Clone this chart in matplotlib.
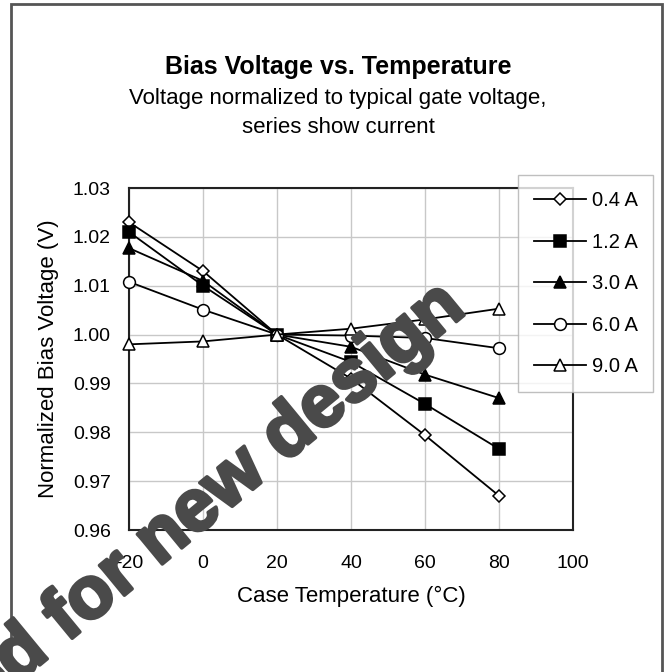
import matplotlib
matplotlib.use("Agg")
import matplotlib.pyplot as plt
import matplotlib.patheffects as pe
from matplotlib.patches import Rectangle

plt.rcParams['font.family'] = ['Liberation Sans', 'DejaVu Sans']

# data
temps = [-20, 0, 20, 40, 60, 80]
v_04 = [1.023, 1.013, 1.000, 0.991, 0.9794, 0.967]
v_12 = [1.021, 1.010, 1.000, 0.9944, 0.9858, 0.9766]
v_30 = [1.0177, 1.011, 1.000, 0.9975, 0.9918, 0.987]
v_60 = [1.0108, 1.0051, 1.000, 0.9998, 0.9993, 0.9972]
v_90 = [0.998, 0.9986, 1.000, 1.0012, 1.0031, 1.0053]
labels = ["0.4 A", "1.2 A", "3.0 A", "6.0 A", "9.0 A"]

xticks = [-20, 0, 20, 40, 60, 80, 100]
yticks = [0.96, 0.97, 0.98, 0.99, 1.00, 1.01, 1.02, 1.03]

W, H = 664, 672
fig = plt.figure(figsize=(W / 100, H / 100), dpi=100)

# outer frame of the chart
fig.patches.append(Rectangle((11 / W, -0.05), (662 - 11) / W, 1.05 - 4 / H,
                             transform=fig.transFigure, fill=False,
                             edgecolor="#555555", linewidth=2))

ax = fig.add_axes([129 / W, 1 - 530 / H, (573 - 129) / W, (530 - 188) / H])

styles = [
    dict(marker="D", markersize=6, markerfacecolor="white"),
    dict(marker="s", markersize=8, markerfacecolor="black"),
    dict(marker="^", markersize=8, markerfacecolor="black"),
    dict(marker="o", markersize=8.5, markerfacecolor="white"),
    dict(marker="^", markersize=8.5, markerfacecolor="white"),
]
series = [v_04, v_12, v_30, v_60, v_90]
for vals, lab, st in zip(series, labels, styles):
    ax.plot(temps, vals, color="black", linewidth=1.3, markeredgecolor="black",
            markeredgewidth=1.1, label=lab, clip_on=False, zorder=3, **st)

ax.set_xlim(-20, 100)
ax.set_ylim(0.96, 1.03)
ax.set_xticks(xticks)
ax.set_yticks(yticks)
ax.set_xticklabels([str(t) for t in xticks])
ax.set_yticklabels(["%.2f" % t for t in yticks])
ax.tick_params(length=0, labelsize=14)
ax.tick_params(axis="x", pad=18)
ax.tick_params(axis="y", pad=13)
ax.grid(True, color="#c8c8c8", linewidth=1)
ax.set_axisbelow(True)
for sp in ax.spines.values():
    sp.set_linewidth(1.5)
    sp.set_color("#222222")

ax.set_xlabel("Case Temperature (\u00b0C)", fontsize=16, labelpad=10)
ax.set_ylabel("Normalized Bias Voltage (V)", fontsize=16, labelpad=10)

fig.text(338 / W, 1 - 67 / H, "Bias Voltage vs. Temperature", fontsize=18,
         fontweight="bold", ha="center", va="center")
fig.text(338 / W, 1 - 113 / H,
         "Voltage normalized to typical gate voltage,\nseries show current",
         fontsize=16, ha="center", va="center", linespacing=1.55)

leg = fig.legend(loc="upper left", bbox_to_anchor=(518 / W, 1 - 175 / H),
                 fontsize=14.5, frameon=True, fancybox=False,
                 handlelength=2.6, handletextpad=0.25, labelspacing=1.12,
                 borderpad=0.8, borderaxespad=0)
leg.get_frame().set_edgecolor("#b0b0b0")
leg.get_frame().set_linewidth(1)

# watermark
wm = fig.text(468 / W, 1 - 312 / H, "Not recommended for new design",
              fontsize=53, fontweight="bold", color="#4a4a4a", rotation=39.5,
              rotation_mode="anchor", ha="right", va="baseline", zorder=10)
wm.set_path_effects([pe.withStroke(linewidth=2.5, foreground="#4a4a4a")])

fig.savefig("out.png", dpi=100)
